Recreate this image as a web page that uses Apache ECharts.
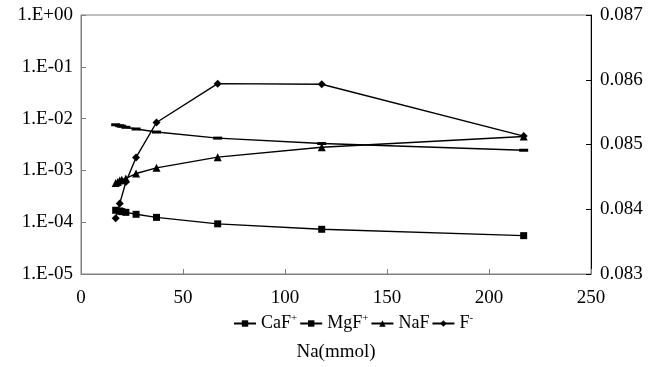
<!DOCTYPE html>
<html>
<head>
<meta charset="utf-8">
<script src="https://cdn.jsdelivr.net/npm/echarts@6/dist/echarts.min.js"></script>
<style>html,body{margin:0;padding:0;background:#fff}#c{width:661px;height:367px}</style>
</head>
<body>
<div id="c"></div>
<script>
const xCaF = [17, 19, 20, 22, 27, 37, 67, 118, 217];
const caF  = [1.7e-4, 1.65e-4, 1.6e-4, 1.55e-4, 1.42e-4, 1.24e-4, 9.3e-5, 7.3e-5, 5.5e-5];
const xMgF = [17, 19, 20, 22, 27, 37, 67, 118, 217];
const mgF  = [7.6e-3, 7.3e-3, 7.1e-3, 6.8e-3, 6.3e-3, 5.5e-3, 4.2e-3, 3.3e-3, 2.45e-3];
const xNaF = [17, 18, 19, 20, 22, 27, 37, 67, 118, 217];
const naF  = [5.7e-4, 6.0e-4, 6.4e-4, 6.6e-4, 7.0e-4, 8.7e-4, 1.12e-3, 1.8e-3, 2.8e-3, 4.5e-3];
const xF   = [17, 19, 22, 27, 37, 67, 118, 217];
const fMinus = [0.08386, 0.08409, 0.08442, 0.08480, 0.08534, 0.08594, 0.08593, 0.08513];
const xTicks = [0, 50, 100, 150, 200, 250];
const names = ['CaF+', 'MgF+', 'NaF', 'F-'];

const font = 'Liberation Serif';
const fs = 19;
const pair = (xs, ys) => xs.map((x, i) => [x, ys[i]]);
const chart = echarts.init(document.getElementById('c'), null, {renderer: 'canvas'});
const lineBase = {type: 'line', lineStyle: {color: '#000', width: 1.4}, itemStyle: {color: '#000'}, showSymbol: true, animation: false};

chart.setOption({
  animation: false,
  grid: {left: 81, right: 70, top: 15, bottom: 93, show: true, borderColor: '#808080', borderWidth: 1, containLabel: false, outerBoundsMode: 'none'},
  xAxis: {
    type: 'value', min: xTicks[0], max: xTicks[xTicks.length - 1], interval: 50,
    name: 'Na(mmol)', nameLocation: 'middle', nameGap: 69,
    nameTextStyle: {fontFamily: font, fontSize: fs, color: '#000'},
    axisLine: {lineStyle: {color: '#808080'}},
    axisTick: {inside: true, length: 5, lineStyle: {color: '#808080'}},
    axisLabel: {fontFamily: font, fontSize: fs, color: '#000', margin: 15},
    splitLine: {show: false}
  },
  yAxis: [{
    type: 'log', logBase: 10, min: 1e-5, max: 1,
    axisLine: {show: true, lineStyle: {color: '#808080'}},
    axisTick: {show: true, inside: true, length: 5, lineStyle: {color: '#808080'}},
    axisLabel: {fontFamily: font, fontSize: fs, color: '#000', margin: 8,
      formatter: v => { const e = Math.round(Math.log10(v)); return '1.E' + (e >= 0 ? '+' : '-') + String(Math.abs(e)).padStart(2, '0'); }},
    splitLine: {show: false}
  }, {
    type: 'value', min: 0.083, max: 0.087, interval: 0.001, position: 'right',
    axisLine: {show: true, lineStyle: {color: '#000'}},
    axisTick: {show: true, inside: true, length: 5, lineStyle: {color: '#000'}},
    axisLabel: {fontFamily: font, fontSize: fs, color: '#000', margin: 9, formatter: v => v.toFixed(3)},
    splitLine: {show: false}
  }],
  legend: {
    left: 228, top: 308, itemGap: 2, itemWidth: 22, itemHeight: 8,
    data: names,
    textStyle: {fontFamily: font, fontSize: 18, color: '#000',
      rich: {b: {fontFamily: font, fontSize: 18, color: '#000'}, s: {fontFamily: font, fontSize: 11, color: '#000', padding: [0, 0, 10, 0]}}},
    formatter: n => {
      if (n === 'CaF+') return '{b|CaF}{s|+}';
      if (n === 'MgF+') return '{b|MgF}{s|+}';
      if (n === 'F-') return '{b|F}{s|-}';
      return '{b|' + n + '}';
    }
  },
  series: [
    Object.assign({}, lineBase, {name: names[0], yAxisIndex: 0, symbol: 'rect', symbolSize: 7, data: pair(xCaF, caF)}),
    Object.assign({}, lineBase, {name: names[1], yAxisIndex: 0, symbol: 'rect', symbolSize: [9, 3], data: pair(xMgF, mgF)}),
    Object.assign({}, lineBase, {name: names[2], yAxisIndex: 0, symbol: 'triangle', symbolSize: 8, data: pair(xNaF, naF)}),
    Object.assign({}, lineBase, {name: names[3], yAxisIndex: 1, symbol: 'diamond', symbolSize: 8, data: pair(xF, fMinus)})
  ]
});
</script>
</body>
</html>
